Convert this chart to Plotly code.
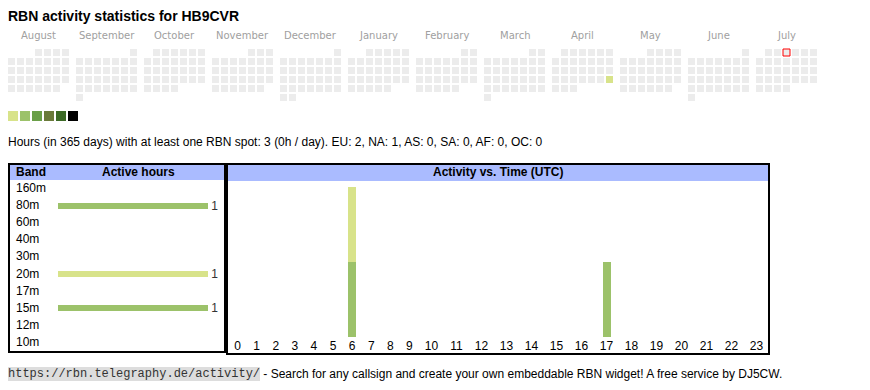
import datetime as dt
import plotly.graph_objects as go

# page body has an 8px margin; figure is sized to fit the remaining window
PAGE_OFF = 8
W, H = 870 - PAGE_OFF, 390 - PAGE_OFF

# ---------------- data ----------------
TITLE = "RBN activity statistics for HB9CVR"
MONTHS = ["August", "September", "October", "November", "December", "January",
          "February", "March", "April", "May", "June", "July"]
FIRST_MONTH = "2024-08-01"
LAST_DAY = "2025-07-31"
TODAY = "2025-07-03"
ACTIVE_DAYS = ["2025-04-27"]
ACTIVE_LEVELS = [1]
LEVEL_COLORS = ["#d8e38a", "#9cc26a", "#6a9f48", "#6a7a3a", "#3c6a26", "#000000"]
EMPTY_COLOR = "#ececec"

SUMMARY = ("Hours (in 365 days) with at least one RBN spot: 3 (0h / day). "
           "EU: 2, NA: 1, AS: 0, SA: 0, AF: 0, OC: 0")

BANDS = ["160m", "80m", "60m", "40m", "30m", "20m", "17m", "15m", "12m", "10m"]
BAND_HOURS = [0, 1, 0, 0, 0, 1, 0, 1, 0, 0]
BAND_COLORS = ["#9cc26a", "#9cc26a", "#9cc26a", "#9cc26a", "#9cc26a",
               "#d8e38a", "#9cc26a", "#9cc26a", "#9cc26a", "#9cc26a"]

HOUR_LABELS = ["0", "1", "2", "3", "4", "5", "6", "7", "8", "9", "10", "11",
               "12", "13", "14", "15", "16", "17", "18", "19", "20", "21", "22", "23"]
TIME_SERIES_NAMES = ["80m", "20m", "15m"]
TIME_80M = [0, 0, 0, 0, 0, 0, 1, 0, 0, 0, 0, 0, 0, 0, 0, 0, 0, 0, 0, 0, 0, 0, 0, 0]
TIME_20M = [0, 0, 0, 0, 0, 0, 1, 0, 0, 0, 0, 0, 0, 0, 0, 0, 0, 0, 0, 0, 0, 0, 0, 0]
TIME_15M = [0, 0, 0, 0, 0, 0, 0, 0, 0, 0, 0, 0, 0, 0, 0, 0, 0, 1, 0, 0, 0, 0, 0, 0]
TIME_COLORS = ["#9cc26a", "#d8e38a", "#9cc26a"]

URL = "https://rbn.telegraphy.de/activity/"
FOOTER = " - Search for any callsign and create your own embeddable RBN widget! A free service by DJ5CW."

# ---------------- layout constants (window pixel coordinates) ----------------
SANS = "Liberation Sans, Arial, sans-serif"
MONO = "Liberation Mono, Courier New, monospace"
CAL_X0, CAL_Y0 = 8, 49
CELL, PITCH, MONTH_PITCH = 7, 9, 68
LEG_X0, LEG_Y0, LEG_SIZE, LEG_PITCH = 8, 111, 10, 12
DIGIT_W, CELL_PAD = 5.9, 13.2
TIME_X0, TIME_X1 = 228, 769


def px(x):
    return (x - PAGE_OFF) / W


def py(y):
    return 1 - (y - PAGE_OFF) / H


# ---------------- calendar cells ----------------
d0 = dt.date.fromisoformat(FIRST_MONTH)
d1 = dt.date.fromisoformat(LAST_DAY)
today = dt.date.fromisoformat(TODAY)
active = {dt.date.fromisoformat(d): lv for d, lv in zip(ACTIVE_DAYS, ACTIVE_LEVELS)}

cx, cy, ccol, cline, cwidth = [], [], [], [], []
d = d0
while d <= d1:
    m = (d.year - d0.year) * 12 + d.month - d0.month
    first_wd = d.replace(day=1).weekday()
    row = (d.day - 1 + first_wd) // 7
    cx.append(CAL_X0 + m * MONTH_PITCH + d.weekday() * PITCH + CELL / 2)
    cy.append(CAL_Y0 + row * PITCH + CELL / 2)
    lv = active.get(d, 0)
    ccol.append(LEVEL_COLORS[lv - 1] if lv else EMPTY_COLOR)
    cline.append("#ff0000" if d == today else ccol[-1])
    cwidth.append(1 if d == today else 0)
    d += dt.timedelta(days=1)

fig = go.Figure()

fig.add_trace(go.Scatter(
    x=cx, y=cy, mode="markers", xaxis="x", yaxis="y", hoverinfo="skip",
    marker=dict(symbol="square", size=CELL, color=ccol,
                line=dict(color=cline, width=cwidth)),
))

# legend of levels
fig.add_trace(go.Scatter(
    x=[LEG_X0 + i * LEG_PITCH + LEG_SIZE / 2 for i in range(len(LEVEL_COLORS))],
    y=[LEG_Y0 + LEG_SIZE / 2] * len(LEVEL_COLORS),
    mode="markers", xaxis="x", yaxis="y", hoverinfo="skip",
    marker=dict(symbol="square", size=LEG_SIZE, color=LEVEL_COLORS, line=dict(width=0)),
))

# ---------------- band bars ----------------
fig.add_trace(go.Bar(
    x=BAND_HOURS, y=BANDS, orientation="h", xaxis="x2", yaxis="y2",
    marker=dict(color=BAND_COLORS, line=dict(width=0)), width=6 / 17,
    text=[" " + str(v) if v else "" for v in BAND_HOURS], textposition="outside",
    textfont=dict(family=SANS, size=12, color="#333333"),
    constraintext="none", cliponaxis=False, hoverinfo="skip",
))

# ---------------- time bars ----------------
widths = [CELL_PAD + DIGIT_W * len(lbl) for lbl in HOUR_LABELS]
centers = []
acc = 0
for w in widths:
    centers.append(acc + w / 2)
    acc += w
total_w = acc

for name, vals, col in zip(TIME_SERIES_NAMES, [TIME_80M, TIME_20M, TIME_15M], TIME_COLORS):
    fig.add_trace(go.Bar(
        x=centers, y=vals, name=name, xaxis="x3", yaxis="y3", width=8,
        marker=dict(color=col, line=dict(width=0)), hoverinfo="skip",
    ))

max_stack = max(a + b + c for a, b, c in zip(TIME_80M, TIME_20M, TIME_15M))

# ---------------- shapes (boxes) ----------------
shapes = [
    dict(type="rect", xref="paper", yref="paper", x0=px(10), x1=px(224), y0=py(165), y1=py(180),
         fillcolor="#aabbff", line=dict(width=0), layer="below"),
    dict(type="rect", xref="paper", yref="paper", x0=px(228), x1=px(768), y0=py(165), y1=py(181),
         fillcolor="#aabbff", line=dict(width=0), layer="below"),
    dict(type="rect", xref="paper", yref="paper", x0=px(9), x1=px(225), y0=py(164), y1=py(352),
         line=dict(color="black", width=2)),
    dict(type="rect", xref="paper", yref="paper", x0=px(227), x1=px(769), y0=py(164), y1=py(354),
         line=dict(color="black", width=2)),
    dict(type="rect", xref="paper", yref="paper", x0=px(8), x1=px(260), y0=py(367), y1=py(381),
         fillcolor="#dddddd", line=dict(width=0), layer="below"),
]

# ---------------- annotations ----------------
def note(text, x, y, size=12, xanchor="left", family=SANS, color="#000000", xref="paper", yref="paper"):
    return dict(xref=xref, yref=yref, x=x, y=y, xanchor=xanchor, yanchor="middle",
                text=text, showarrow=False, borderpad=0, borderwidth=0,
                font=dict(family=family, size=size, color=color))


ann = [note("<b>" + TITLE + "</b>", px(8), py(16), size=14)]
for m, name in enumerate(MONTHS):
    ann.append(dict(xref="x", yref="y", x=CAL_X0 + m * MONTH_PITCH + (6 * PITCH + CELL) / 2,
                    y=35.5, xanchor="center", yanchor="middle", text=name, showarrow=False,
                    borderpad=0, borderwidth=0,
                    font=dict(family="DejaVu Sans, Verdana, sans-serif", size=10, color="#a0a0a0")))
ann.append(note(SUMMARY, px(8), py(142)))
ann.append(note("<b>Band</b>", px(16), py(172.5)))
ann.append(note("<b>Active hours</b>", px(138), py(172.5), xanchor="center"))
ann.append(note("<b>Activity vs. Time (UTC)</b>", px(498), py(172.5), xanchor="center"))
for b in BANDS:
    ann.append(note(b, px(16), b, yref="y2"))
ann.append(note(URL, px(8), py(374), family=MONO, color="#333333"))
ann.append(note(FOOTER, px(260), py(374)))

# calendar axes are expressed in window pixels, offset by the page margin
fig.update_layout(
    width=W, height=H, margin=dict(l=0, r=0, t=0, b=0),
    paper_bgcolor="white", plot_bgcolor="rgba(0,0,0,0)",
    showlegend=False, barmode="stack",
    shapes=shapes, annotations=ann,
    xaxis=dict(domain=[0, 1], range=[PAGE_OFF, PAGE_OFF + W], visible=False, fixedrange=True),
    yaxis=dict(domain=[0, 1], range=[PAGE_OFF + H, PAGE_OFF], visible=False, fixedrange=True),
    xaxis2=dict(domain=[px(58), px(208)], range=[0, max(BAND_HOURS)], visible=False, anchor="y2"),
    yaxis2=dict(domain=[py(350), py(180)], type="category", categoryorder="array",
                categoryarray=BANDS, autorange="reversed", visible=False, anchor="x2"),
    xaxis3=dict(domain=[px(TIME_X0), px(TIME_X1)], range=[0, total_w], anchor="y3",
                tickmode="array", tickvals=centers, ticktext=HOUR_LABELS, ticks="",
                showgrid=False, zeroline=False, showline=False,
                tickfont=dict(family=SANS, size=12, color="#000000")),
    yaxis3=dict(domain=[py(337), py(187)], range=[0, max_stack], visible=False, anchor="x3"),
)

fig.write_html("out.html")
